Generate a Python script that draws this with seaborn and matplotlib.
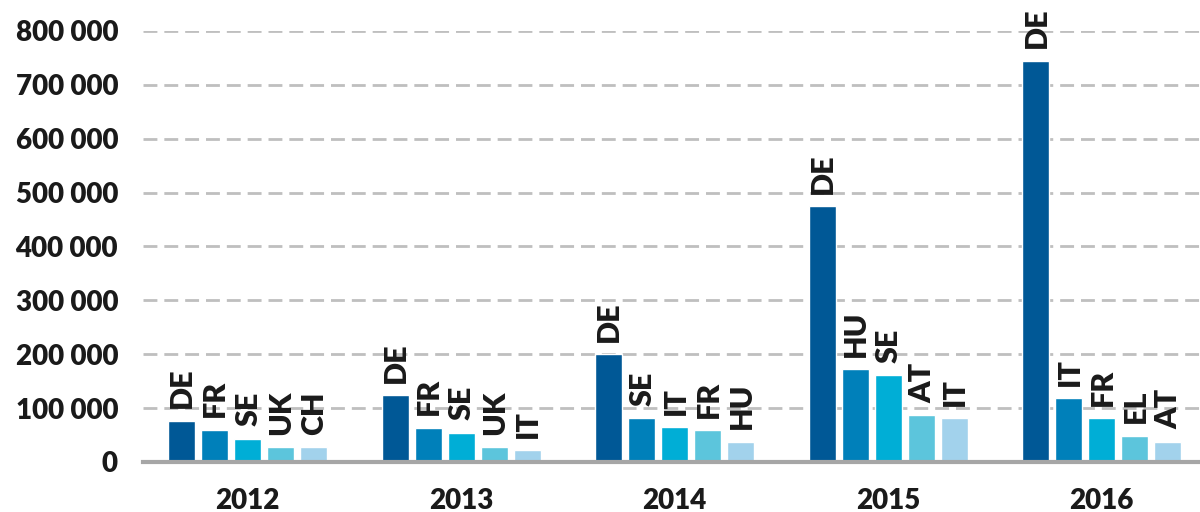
import matplotlib
matplotlib.use("Agg")
import matplotlib.pyplot as plt
import matplotlib.ticker as mticker
import pandas as pd
import seaborn as sns

# Top five destination countries per year (first-time asylum applicants)
years = ["2012", "2013", "2014", "2015", "2016"]

countries_2012 = ["DE", "FR", "SE", "UK", "CH"]
values_2012 = [77000, 60000, 43500, 27500, 27500]

countries_2013 = ["DE", "FR", "SE", "UK", "IT"]
values_2013 = [124000, 64000, 54000, 27500, 22000]

countries_2014 = ["DE", "SE", "IT", "FR", "HU"]
values_2014 = [200000, 81000, 64500, 59000, 37500]

countries_2015 = ["DE", "HU", "SE", "AT", "IT"]
values_2015 = [475000, 172500, 161000, 86500, 81000]

countries_2016 = ["DE", "IT", "FR", "EL", "AT"]
values_2016 = [745000, 118000, 81000, 48500, 37500]

ranks = ["1", "2", "3", "4", "5"]
palette = ["#005896", "#0080BA", "#00AED6", "#5CC5DC", "#A2D2EC"]

all_countries = [countries_2012, countries_2013, countries_2014, countries_2015, countries_2016]
all_values = [values_2012, values_2013, values_2014, values_2015, values_2016]

rows = []
for year, cs, vs in zip(years, all_countries, all_values):
    for rank, c, v in zip(ranks, cs, vs):
        rows.append({"year": year, "rank": rank, "country": c, "value": v})
df = pd.DataFrame(rows)

sns.set_theme(style="white")
plt.rcParams["font.family"] = ["Lato", "DejaVu Sans"]
plt.rcParams["font.weight"] = "bold"

fig = plt.figure(figsize=(12, 5.12), dpi=100)
ax = fig.add_axes([143 / 1200, 50 / 512, 1 - 143 / 1200, 431 / 512])

sns.barplot(data=df, x="year", y="value", hue="rank", order=years,
            hue_order=ranks, palette=palette, width=0.773, gap=0.18,
            legend=False, ax=ax, saturation=1, errorbar=None)

# Country code above each bar
label_lookup = {(r["year"], r["rank"]): r["country"] for r in rows}
for rank, container in zip(ranks, ax.containers):
    for year, bar in zip(years, container):
        ax.annotate(label_lookup[(year, rank)],
                    (bar.get_x() + bar.get_width() / 2, bar.get_height()),
                    xytext=(0.5, 9), textcoords="offset points",
                    rotation=90, ha="center", va="bottom",
                    fontsize=22, fontweight="heavy", color="#1a1a1a",
                    annotation_clip=False)

ax.set_ylim(0, 800000)
ax.set_xlim(-0.49, 4.46)
ax.yaxis.set_major_locator(mticker.MultipleLocator(100000))
ax.yaxis.set_major_formatter(
    mticker.FuncFormatter(lambda v, _: f"{int(v):,}".replace(",", " ")))
ax.yaxis.grid(True, color="#BFBFBF", linestyle=(0, (5, 2.5)), linewidth=2)
ax.set_axisbelow(True)

for side in ["top", "right", "left"]:
    ax.spines[side].set_visible(False)
ax.spines["bottom"].set_color("#A6A6A6")
ax.spines["bottom"].set_linewidth(3)
ax.spines["bottom"].set_zorder(5)

ax.tick_params(axis="y", length=0, pad=18, labelsize=20, labelcolor="#1a1a1a")
ax.tick_params(axis="x", length=0, pad=19, labelsize=20, labelcolor="#1a1a1a")
for lbl in ax.get_xticklabels() + ax.get_yticklabels():
    lbl.set_fontweight("heavy")
ax.set_xlabel("")
ax.set_ylabel("")

fig.savefig("out.png", dpi=100)
